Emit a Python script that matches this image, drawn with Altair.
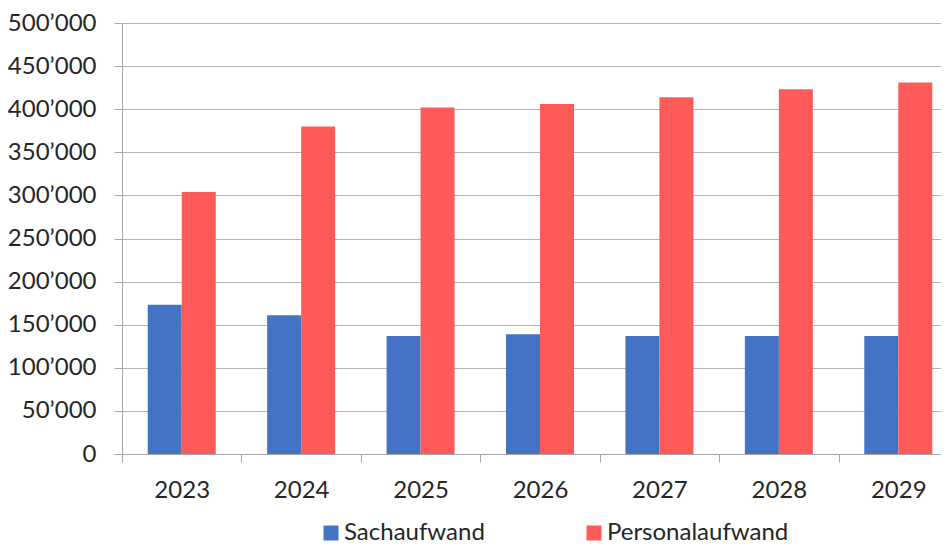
import altair as alt
import pandas as pd

years = [2023, 2024, 2025, 2026, 2027, 2028, 2029]
sachaufwand = [173000, 161000, 137000, 139000, 137000, 137000, 137000]
personalaufwand = [304000, 380000, 402000, 406000, 414000, 423000, 431000]
series_names = ["Sachaufwand", "Personalaufwand"]
series_colors = ["#4472C4", "#FF5A5A"]

rows = []
for y, s, p in zip(years, sachaufwand, personalaufwand):
    rows.append({"year": y, "series": series_names[0], "value": s})
    rows.append({"year": y, "series": series_names[1], "value": p})
df = pd.DataFrame(rows)

FONT = "Lato"
FS = 24
PLOT_W = 819          # visible plot width (plot continues past the right edge)
STEP = 119.43         # pixel width of one year band
BAR_W = 34

x_lo = years[0] - 0.5
x_hi = x_lo + PLOT_W / STEP
band_starts = [y - 0.5 for y in years]

x_enc = alt.X(
    "year:Q",
    title=None,
    scale=alt.Scale(domain=[x_lo, x_hi], nice=False, zero=False, padding=0),
    axis=alt.Axis(
        values=band_starts,
        labelExpr="format(datum.value + 0.5, 'd')",
        labelOffset=STEP / 2,
        labelFlush=False,
        labelOverlap=False,
        tickSize=8,
        labelPadding=16,
        domainColor="#a6a6a6",
        tickColor="#a6a6a6",
        grid=False,
    ),
)
y_enc = alt.Y(
    "value:Q",
    title=None,
    scale=alt.Scale(domain=[0, 500000], nice=False, padding=0),
    axis=alt.Axis(
        values=list(range(0, 500001, 50000)),
        labelExpr="replace(format(datum.value, ','), ',', '\u2019')",
        tickSize=8,
        labelPadding=18,
        domainColor="#a6a6a6",
        tickColor="#a6a6a6",
        gridColor="#b3b3b3",
        gridWidth=1.2,
    ),
)
color_enc = alt.Color(
    "series:N",
    scale=alt.Scale(domain=series_names, range=series_colors),
    legend=alt.Legend(
        title=None,
        orient="none",
        direction="horizontal",
        legendX=197,
        legendY=498,
        symbolType="square",
        symbolSize=225,
        symbolStrokeWidth=0,
        labelFontSize=FS,
        labelFont=FONT,
        labelColor="#262626",
        labelOffset=1,
        labelLimit=400,
        columnPadding=97,
        padding=0,
    ),
)

base = alt.Chart(df)
blue = base.transform_filter(alt.datum.series == series_names[0]).mark_bar(
    width=BAR_W, xOffset=-BAR_W / 2
).encode(x=x_enc, y=y_enc, color=color_enc)
red = base.transform_filter(alt.datum.series == series_names[1]).mark_bar(
    width=BAR_W, xOffset=BAR_W / 2
).encode(x=x_enc, y=y_enc, color=color_enc)

chart = (
    alt.layer(blue, red)
    .properties(
        width=PLOT_W,
        height=431,
        autosize=alt.AutoSizeParams(type="none"),
        padding={"left": 114, "top": 15, "right": 0, "bottom": 91},
    )
    .configure_view(stroke=None)
    .configure_axis(labelFont=FONT, labelFontSize=FS, labelColor="#262626")
)

chart.save("out.html", embed_options={"renderer": "svg", "actions": False})
